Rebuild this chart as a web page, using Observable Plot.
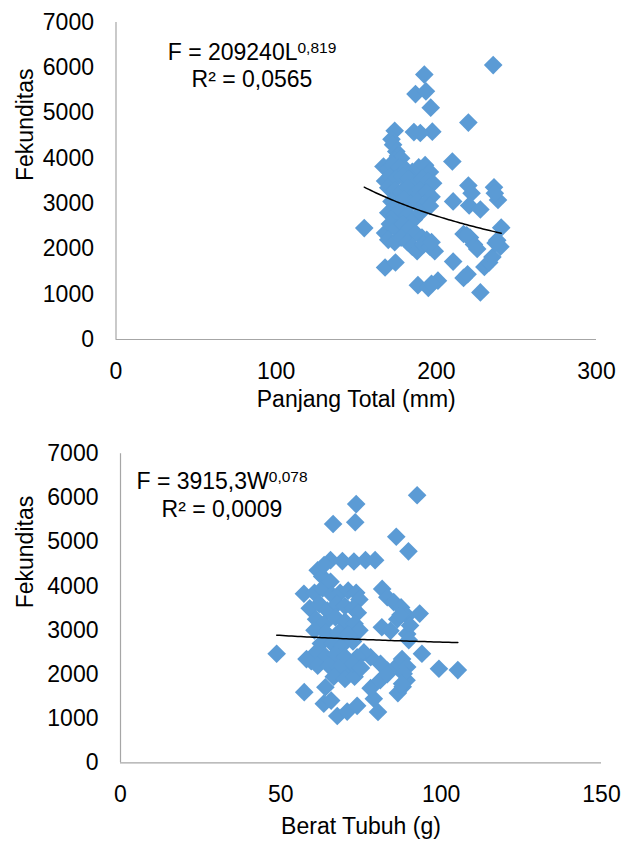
<!DOCTYPE html>
<html>
<head>
<meta charset="utf-8">
<script src="https://cdn.jsdelivr.net/npm/d3@7"></script>
<script src="https://cdn.jsdelivr.net/npm/@observablehq/plot@0.6"></script>
<style>
  html, body { margin: 0; padding: 0; background: #fff; }
  svg { display: block; }
</style>
</head>
<body>
<div id="chart"></div>
<script>
// ---- Data ----
const lengthMm = [
  235.5, 192.5, 187, 193.5, 196.5, 220, 197.5, 186, 190, 174, 210, 155, 168, 174.5,
  188.5, 195, 201, 197, 227.5, 217, 219.5, 210.5, 230, 233, 235, 236, 238.5, 236.5,
  220, 222, 210.5, 220.5, 227.5, 240.5, 238, 240, 217, 221, 223.5, 225.5, 219, 237,
  172, 173, 175, 176, 174, 178,
  167, 170, 173, 177, 181, 185, 189, 193, 196,
  168, 171, 175, 179, 183, 187, 191, 195, 198,
  170, 174, 178, 182, 186, 190, 194, 197,
  172, 176, 180, 184, 188, 193, 196,
  170, 174, 178, 182, 186, 190,
  168, 171, 175, 179, 183, 187, 191, 194,
  170, 174, 178, 182, 185, 188, 192, 196, 199, 197
];
const fecundityByLength = [
  6060, 5850, 5420, 5480, 5120, 4790, 4590, 4580, 4560, 4610, 3930, 2460, 1590, 1700,
  1200, 1140, 1300, 1230, 1040, 1360, 1440, 1720, 1600, 1700, 1820, 3360, 3080, 3230,
  3400, 3230, 3050, 2960, 2870, 2470, 2190, 2050, 2330, 2250, 2100, 2000, 2300, 2130,
  4420, 4300, 4150, 4050, 3950, 4000,
  3820, 3780, 3850, 3800, 3750, 3700, 3800, 3850, 3700,
  3500, 3600, 3550, 3600, 3550, 3450, 3550, 3500, 3450,
  3350, 3300, 3250, 3350, 3200, 3300, 3250, 3150,
  3050, 3000, 3100, 3000, 3050, 3000, 2950,
  2800, 2750, 2850, 2750, 2650, 2800,
  2350, 2550, 2450, 2550, 2450, 2350, 2250, 2200,
  2200, 2150, 2250, 2150, 2050, 1950, 2100, 2050, 1950, 2150
];

const weightG = [
  92.5, 73.5, 66.3, 73.2, 86, 89.8,
  65.5, 69.2, 72.8, 76.4, 79.4,
  61.5, 62.9, 63.5,
  81.6, 57.2,
  48.7, 94, 99.3, 105.2,
  57.3, 63.9, 63.4, 65.7, 67.6, 70.7, 73.8, 80.3, 79, 78, 86.5, 88, 89.2,
  83.2, 85.2, 87.5, 89.4, 86.3, 93.3, 81.5, 84.2, 89.4, 90.3, 87.3, 89.9,
  86.3, 87.8, 89.4, 88.3, 83.2, 81.1, 78, 75.9, 73.8, 71.7, 69.6, 81, 83.2, 87.8,
  60.5, 63, 65.5, 66, 68.5, 71, 73.5, 74.5,
  59, 62, 64.5, 67.5, 70, 72.5, 74,
  61, 63.5, 67, 70, 73, 74.5,
  60.5, 64, 68, 71,
  62.5, 66, 69, 72.5,
  59.5, 61, 64, 67, 70,
  58, 61.5, 65, 68, 66.5, 70, 73, 72.5, 75
];
const fecundityByWeight = [
  6060, 5860, 5410, 5450, 5120, 4790,
  4590, 4570, 4560, 4590, 4590,
  4360, 4220, 4480,
  3940, 3830,
  2470, 2470, 2130, 2100,
  1600, 1712, 1340, 1410, 1060, 1160, 1290, 1150, 1450, 1690, 1580, 1720, 1870,
  3750, 3640, 3520, 3330, 3250, 3380, 3070, 2990, 2920, 3110, 3350, 2780,
  2200, 2350, 2170, 2020, 2090, 2240, 2390, 2500, 2390, 2170, 2020, 1870, 2010, 1790,
  3850, 3950, 4100, 3800, 3850, 3900, 3850, 3700,
  3500, 3600, 3450, 3600, 3550, 3500, 3400,
  3250, 3150, 3300, 3200, 3150, 3000,
  3000, 2950, 2950, 2900,
  2700, 2700, 2650, 2750,
  2300, 2500, 2400, 2450, 2400,
  2350, 2200, 2200, 2150, 1950, 1900, 1950, 2250, 2150
];

const yTicks = [0, 1000, 2000, 3000, 4000, 5000, 6000, 7000];
const xTicksLength = [0, 100, 200, 300];
const xTicksWeight = [0, 50, 100, 150];

// Power trendlines as labelled in the picture (F = a * X^b)
const trendLength = { a: 209240, b: -0.819, main: "F = 209240L", sup: "0,819", r2: "R² = 0,0565" };
const trendWeight = { a: 3915.3, b: -0.078, main: "F = 3915,3W", sup: "0,078", r2: "R² = 0,0009" };

// ---- Styling ----
const FONT = "'Liberation Sans', Arial, sans-serif";
const FS = 23;
const BLUE = "#5b9bd5";
const AXIS = "#a6a6a6";

function trendPoints(xs, t) {
  const lo = d3.min(xs), hi = d3.max(xs);
  const n = 60;
  return d3.range(n + 1).map(i => {
    const x = lo + (hi - lo) * i / n;
    return { x, y: t.a * Math.pow(x, t.b) };
  });
}

function panel(cfg) {
  const data = cfg.xs.map((x, i) => ({ x, y: cfg.ys[i] }));
  const svg = Plot.plot({
    width: 629,
    height: cfg.height,
    marginLeft: cfg.ml,
    marginRight: cfg.mr,
    marginTop: cfg.mt,
    marginBottom: cfg.mb,
    style: { fontFamily: FONT, fontSize: FS + "px", color: "#000", background: "#fff", overflow: "visible" },
    x: { domain: cfg.xDomain },
    y: { domain: [0, 7000] },
    marks: [
      Plot.axisX({ ticks: cfg.xTicks, tickSize: 0, tickPadding: 23, fontSize: FS, label: null, tickFormat: d => String(d) }),
      Plot.axisY({ ticks: yTicks, tickSize: 0, tickPadding: 22, fontSize: FS, label: null, tickFormat: d => String(d) }),
      Plot.ruleY([0], { stroke: AXIS, strokeWidth: 1.2 }),
      Plot.ruleX([0], { stroke: AXIS, strokeWidth: 1.2 }),
      Plot.dot(data, { x: "x", y: "y", symbol: "diamond2", r: 8.4, fill: BLUE, stroke: "none" }),
      Plot.line(trendPoints(cfg.xs, cfg.trend), { x: "x", y: "y", stroke: "#000", strokeWidth: 1.5 }),
      Plot.text([cfg.xLabel], { frameAnchor: "bottom", dy: cfg.xLabelDy, fontSize: FS, fill: "#000", lineAnchor: "middle" }),
      Plot.text([cfg.yLabel], { frameAnchor: "left", dx: -cfg.yLabelDx, rotate: -90, fontSize: FS, fill: "#000", lineAnchor: "middle" })
    ]
  });
  // equation annotation with superscript
  const s = d3.select(svg);
  const g = s.append("g").attr("font-family", FONT).attr("fill", "#000");
  const t1 = g.append("text").attr("x", cfg.eqX).attr("y", cfg.eqY1).attr("text-anchor", "middle").attr("font-size", FS);
  t1.append("tspan").text(cfg.trend.main);
  t1.append("tspan").attr("dy", -7).attr("font-size", 15.5).text(cfg.trend.sup);
  g.append("text").attr("x", cfg.eqX).attr("y", cfg.eqY2).attr("text-anchor", "middle").attr("font-size", FS).text(cfg.trend.r2);
  return svg;
}

const root = document.getElementById("chart");
root.append(panel({
  xs: lengthMm, ys: fecundityByLength, trend: trendLength,
  height: 420, ml: 115.5, mr: 33, mt: 22, mb: 81,
  xDomain: [0, 300], xTicks: xTicksLength,
  xLabel: "Panjang Total (mm)", yLabel: "Fekunditas",
  xLabelDy: 60, yLabelDx: 90.5,
  eqX: 252, eqY1: 60, eqY2: 87
}));
root.append(panel({
  xs: weightG, ys: fecundityByWeight, trend: trendWeight,
  height: 424, ml: 120, mr: 28, mt: 33.3, mb: 81.7,
  xDomain: [0, 150], xTicks: xTicksWeight,
  xLabel: "Berat Tubuh (g)", yLabel: "Fekunditas",
  xLabelDy: 64, yLabelDx: 95,
  eqX: 222, eqY1: 69.3, eqY2: 96.7
}));
</script>
</body>
</html>
